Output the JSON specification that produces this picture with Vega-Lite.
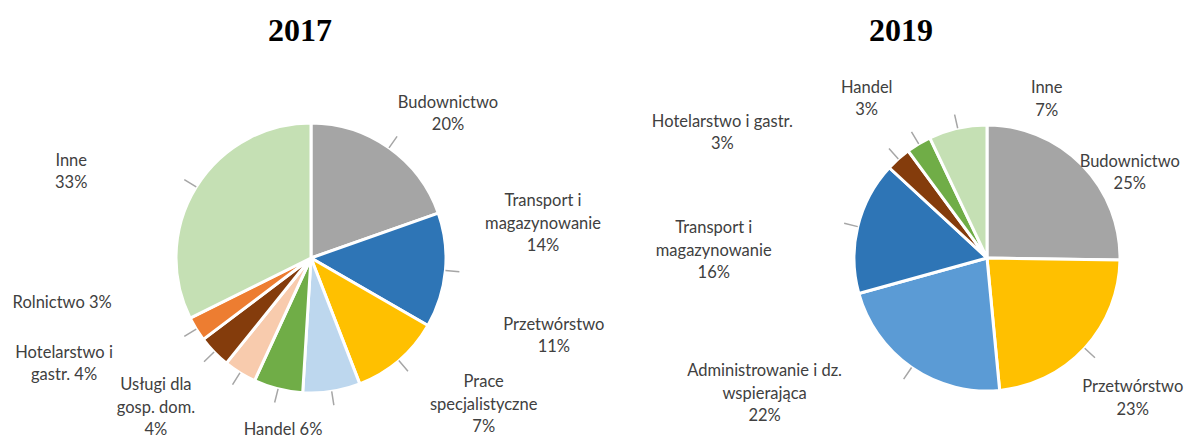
{
  "$schema": "https://vega.github.io/schema/vega-lite/v6.json",
  "padding": {"top": 15, "left": 0, "right": 0, "bottom": 0},
  "background": "white",
  "bounds": "flush",
  "config": {"view": {"stroke": null}},
  "data": {"values": [
    {"year": 2017, "i": 1, "k": "Budownictwo", "v": 20, "lbl": "Budownictwo\n20%"},
    {"year": 2017, "i": 2, "k": "Transport i magazynowanie", "v": 14, "lbl": "Transport i\nmagazynowanie\n14%"},
    {"year": 2017, "i": 3, "k": "Przetwórstwo", "v": 11, "lbl": "Przetwórstwo\n11%"},
    {"year": 2017, "i": 4, "k": "Prace specjalistyczne", "v": 7, "lbl": "Prace\nspecjalistyczne\n7%"},
    {"year": 2017, "i": 5, "k": "Handel", "v": 6, "lbl": "Handel 6%"},
    {"year": 2017, "i": 6, "k": "Usługi dla gosp. dom.", "v": 4, "lbl": "Usługi dla\ngosp. dom.\n4%"},
    {"year": 2017, "i": 7, "k": "Hotelarstwo i gastr.", "v": 4, "lbl": "Hotelarstwo i\ngastr. 4%"},
    {"year": 2017, "i": 8, "k": "Rolnictwo", "v": 3, "lbl": "Rolnictwo 3%"},
    {"year": 2017, "i": 9, "k": "Inne", "v": 33, "lbl": "Inne\n33%"},
    {"year": 2019, "i": 1, "k": "Budownictwo", "v": 25, "lbl": "Budownictwo\n25%"},
    {"year": 2019, "i": 2, "k": "Przetwórstwo", "v": 23, "lbl": "Przetwórstwo\n23%"},
    {"year": 2019, "i": 3, "k": "Administrowanie i dz. wspierająca", "v": 22, "lbl": "Administrowanie i dz.\nwspierająca\n22%"},
    {"year": 2019, "i": 4, "k": "Transport i magazynowanie", "v": 16, "lbl": "Transport i\nmagazynowanie\n16%"},
    {"year": 2019, "i": 5, "k": "Hotelarstwo i gastr.", "v": 3, "lbl": "Hotelarstwo i gastr.\n3%"},
    {"year": 2019, "i": 6, "k": "Handel", "v": 3, "lbl": "Handel\n3%"},
    {"year": 2019, "i": 7, "k": "Inne", "v": 7, "lbl": "Inne\n7%"}
  ]},
  "spacing": 165,
  "resolve": {"scale": {"color": "independent", "theta": "independent"}},
  "hconcat": [
    {
      "width": 622,
      "height": 366,
      "title": {"text": "2017", "font": "Liberation Serif", "fontSize": 32, "fontWeight": "bold", "color": "black", "anchor": "middle", "offset": 27, "dx": -11},
      "transform": [{"filter": "datum.year === 2017"}],
      "resolve": {"scale": {"theta": "independent"}},
      "layer": [
        {
          "mark": {"type": "arc", "radius": 135, "stroke": "white", "strokeWidth": 3, "strokeJoin": "bevel"},
          "encoding": {
            "theta": {"field": "v", "type": "quantitative", "stack": true},
            "order": {"field": "i", "type": "quantitative"},
            "color": {"field": "k", "type": "nominal", "legend": null,
              "scale": {"domain": ["Budownictwo", "Transport i magazynowanie", "Przetwórstwo", "Prace specjalistyczne", "Handel", "Usługi dla gosp. dom.", "Hotelarstwo i gastr.", "Rolnictwo", "Inne"],
                        "range": ["#A5A5A5", "#2E75B6", "#FFC000", "#BDD7EE", "#70AD47", "#F8CBAD", "#843C0C", "#ED7D31", "#C5E0B4"]}}
          }
        },
        {
          "transform": [
            {"window": [{"op": "sum", "field": "v", "as": "cum"}], "sort": [{"field": "i", "order": "ascending"}], "frame": [null, 0]},
            {"joinaggregate": [{"op": "sum", "field": "v", "as": "tot"}]},
            {"calculate": "(datum.cum - datum.v / 2) / datum.tot", "as": "mid"}
          ],
          "mark": {"type": "arc", "radius": 149, "radius2": 135, "fill": "transparent", "stroke": "#A6A6A6", "strokeWidth": 1.5},
          "encoding": {
            "theta": {"field": "mid", "type": "quantitative", "stack": null, "scale": {"domain": [0, 1]}},
            "theta2": {"field": "mid"}
          }
        },
        {
          "mark": {"type": "text", "radius": 135, "font": "Lato", "fontSize": 16.5, "color": "#404040", "lineBreak": "\n", "lineHeight": 22.5, "align": "center", "baseline": "middle",
            "dx": {"expr": "{'Budownictwo': 59, 'Transport i magazynowanie': 97.6, 'Przetwórstwo': 155, 'Prace specjalistyczne': 152, 'Handel': 5, 'Usługi dla gosp. dom.': -84, 'Hotelarstwo i gastr.': -150, 'Rolnictwo': -134, 'Inne': -125}[datum.k]"},
            "dy": {"expr": "{'Budownictwo': -45, 'Transport i magazynowanie': -69, 'Przetwórstwo': -36, 'Prace specjalistyczne': -9, 'Handel': 41, 'Usługi dla gosp. dom.': 12.5, 'Hotelarstwo i gastr.': 1, 'Rolnictwo': -26, 'Inne': -26}[datum.k]"}},
          "encoding": {
            "theta": {"field": "v", "type": "quantitative", "stack": true},
            "order": {"field": "i", "type": "quantitative"},
            "text": {"field": "lbl", "type": "nominal"}
          }
        }
      ]
    },
    {
      "width": 400,
      "height": 366,
      "title": {"text": "2019", "font": "Liberation Serif", "fontSize": 32, "fontWeight": "bold", "color": "black", "anchor": "middle", "offset": 27, "dx": -86},
      "transform": [{"filter": "datum.year === 2019"}],
      "resolve": {"scale": {"theta": "independent"}},
      "layer": [
        {
          "mark": {"type": "arc", "radius": 133, "stroke": "white", "strokeWidth": 3, "strokeJoin": "bevel"},
          "encoding": {
            "theta": {"field": "v", "type": "quantitative", "stack": true},
            "order": {"field": "i", "type": "quantitative"},
            "color": {"field": "k", "type": "nominal", "legend": null,
              "scale": {"domain": ["Budownictwo", "Przetwórstwo", "Administrowanie i dz. wspierająca", "Transport i magazynowanie", "Hotelarstwo i gastr.", "Handel", "Inne"],
                        "range": ["#A5A5A5", "#FFC000", "#5B9BD5", "#2E75B6", "#843C0C", "#70AD47", "#C5E0B4"]}}
          }
        },
        {
          "transform": [
            {"window": [{"op": "sum", "field": "v", "as": "cum"}], "sort": [{"field": "i", "order": "ascending"}], "frame": [null, 0]},
            {"joinaggregate": [{"op": "sum", "field": "v", "as": "tot"}]},
            {"calculate": "(datum.cum - datum.v / 2) / datum.tot", "as": "mid"},
            {"filter": "datum.k !== 'Budownictwo'"}
          ],
          "mark": {"type": "arc", "radius": 147, "radius2": 133, "fill": "transparent", "stroke": "#A6A6A6", "strokeWidth": 1.5},
          "encoding": {
            "theta": {"field": "mid", "type": "quantitative", "stack": null, "scale": {"domain": [0, 1]}},
            "theta2": {"field": "mid"}
          }
        },
        {
          "mark": {"type": "text", "radius": 133, "font": "Lato", "fontSize": 16.5, "color": "#404040", "lineBreak": "\n", "lineHeight": 22.5, "align": "center", "baseline": "middle",
            "dx": {"expr": "{'Budownictwo': 48, 'Przetwórstwo': 48, 'Administrowanie i dz. wspierająca': -147, 'Transport i magazynowanie': -144, 'Hotelarstwo i gastr.': -176, 'Handel': -52, 'Inne': 89}[datum.k]"},
            "dy": {"expr": "{'Budownictwo': -3, 'Przetwórstwo': 39, 'Administrowanie i dz. wspierająca': 3.5, 'Transport i magazynowanie': 1.5, 'Hotelarstwo i gastr.': -37, 'Handel': -56, 'Inne': -40}[datum.k]"}},
          "encoding": {
            "theta": {"field": "v", "type": "quantitative", "stack": true},
            "order": {"field": "i", "type": "quantitative"},
            "text": {"field": "lbl", "type": "nominal"}
          }
        }
      ]
    }
  ]
}
